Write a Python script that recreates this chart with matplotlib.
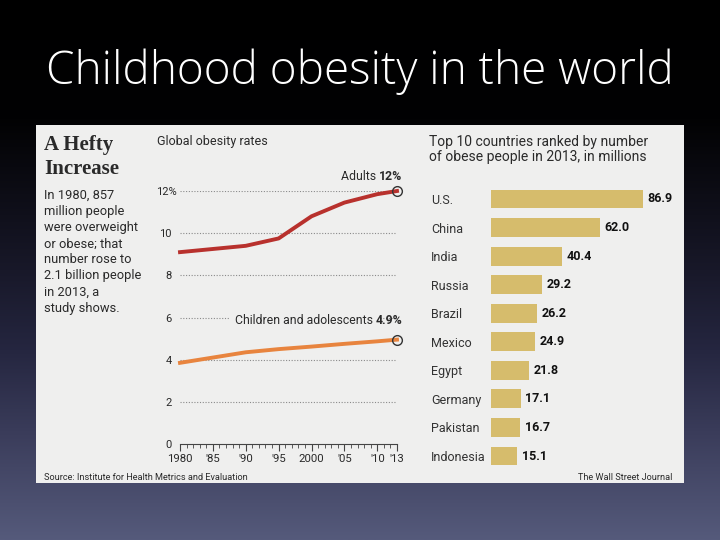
import numpy as np
import matplotlib.pyplot as plt
from matplotlib.colors import LinearSegmentedColormap
from matplotlib.transforms import ScaledTranslation

# Global obesity rates (%)
years = [1980, 1985, 1990, 1995, 2000, 2005, 2010, 2013]
adults = [9.1, 9.25, 9.4, 9.75, 10.8, 11.45, 11.85, 12.0]
children = [3.85, 4.1, 4.35, 4.5, 4.62, 4.75, 4.87, 4.95]

# Top 10 countries, obese people in 2013 (millions)
countries = ['U.S.', 'China', 'India', 'Russia', 'Brazil', 'Mexico', 'Egypt',
             'Germany', 'Pakistan', 'Indonesia']
millions = [86.9, 62.0, 40.4, 29.2, 26.2, 24.9, 21.8, 17.1, 16.7, 15.1]

x_ticks = [1980, 1985, 1990, 1995, 2000, 2005, 2010, 2013]
x_labels = ['1980', "'85", "'90", "'95", '2000', "'05", "'10", "'13"]
y_ticks = [0, 2, 4, 6, 8, 10, 12]
y_labels = ['0', '2', '4', '6', '8', '10', '12%']

SANS = 'Roboto'
INK = '#2a2a2a'
PANEL = '#efefee'
W, H = 720, 540


def px(x, y, w, h):
    """Pixel-Box (oben links) -> Figure-Koordinaten."""
    return [x / W, 1 - (y + h) / H, w / W, h / H]


fig = plt.figure(figsize=(7.2, 5.4), dpi=100)

# Hintergrund: Verlauf schwarz -> schiefergrau
bg = fig.add_axes([0, 0, 1, 1])
cmap = LinearSegmentedColormap.from_list('slate', [
    (0.0, '#000000'), (0.22, '#020203'), (0.5, '#181829'),
    (0.65, '#252640'), (0.8, '#3a3c5a'), (1.0, '#555a7b')])
bg.imshow(np.linspace(0, 1, 256).reshape(-1, 1), aspect='auto', cmap=cmap,
          extent=[0, 1, 0, 1], origin='upper')
bg.axis('off')

fig.text(0.5, 1 - 72 / H, 'Childhood obesity in the world', ha='center', va='center',
         color='white', fontsize=33, family='Open Sans', weight='light')

# Grafik-Panel
panel = fig.add_axes(px(36, 125, 648, 358))
panel.set_facecolor(PANEL)
panel.set_xticks([])
panel.set_yticks([])
for s in panel.spines.values():
    s.set_visible(False)

fig.text(44 / W, 1 - 174 / H, 'A Hefty\nIncrease', ha='left', va='baseline',
         family='Liberation Serif', weight='bold', fontsize=15, color=INK, linespacing=1.25)
fig.text(44 / W, 1 - 189 / H,
         'In 1980, 857\nmillion people\nwere overweight\nor obese; that\nnumber rose to\n'
         '2.1 billion people\nin 2013, a\nstudy shows.',
         ha='left', va='top', family=SANS, fontsize=9.3, color=INK, linespacing=1.31)
fig.text(157 / W, 1 - 142 / H, 'Global obesity rates', ha='left', va='center',
         family=SANS, fontsize=9, color=INK)
fig.text(429 / W, 1 - 135 / H, 'Top 10 countries ranked by number\nof obese people in 2013, in millions',
         ha='left', va='top', family=SANS, fontsize=10, color=INK, linespacing=1.1)
fig.text(44 / W, 1 - 478 / H, 'Source: Institute for Health Metrics and Evaluation',
         ha='left', va='center', family=SANS, fontsize=6.6, color=INK)
fig.text(672 / W, 1 - 478 / H, 'The Wall Street Journal',
         ha='right', va='center', family=SANS, fontsize=6.6, color=INK)

# Linienchart
ax = fig.add_axes(px(180, 191, 217, 253))
ax.set_facecolor('none')
ax.set_xlim(1980, 2013)
ax.set_ylim(0, 12)
for v in y_ticks[1:]:
    ax.axhline(v, color='#8a8a8a', lw=0.8, ls=(0, (1, 1.5)), zorder=1)
ax.plot(years, adults, color='#b8312d', lw=2.8, clip_on=False, zorder=3)
ax.plot(years, children, color='#e8843e', lw=2.8, clip_on=False, zorder=3)
ax.plot(years[-1], adults[-1], 'o', mfc='none', mec='#333333', ms=7, mew=1, clip_on=False, zorder=4)
ax.plot(years[-1], children[-1], 'o', mfc='none', mec='#333333', ms=7, mew=1, clip_on=False, zorder=4)

t1 = ax.text(2013.8, 12.7, '12%', ha='right', va='center', weight='bold',
             family=SANS, fontsize=8.8, color=INK)
ax.annotate('Adults ', xy=(0, 0), xycoords=t1, ha='right', va='bottom',
            family=SANS, fontsize=8.8, color=INK)
t2 = ax.text(2013.8, 5.88, '4.9%', ha='right', va='center', weight='bold',
             family=SANS, fontsize=8.8, color=INK, zorder=6)
ax.annotate('Children and adolescents ', xy=(0, 0), xycoords=t2, ha='right', va='bottom',
            family=SANS, fontsize=8.8, color=INK, zorder=5,
            bbox=dict(boxstyle='square,pad=0.35', fc=PANEL, ec='none'))

for side in ['top', 'right', 'left']:
    ax.spines[side].set_visible(False)
ax.spines['bottom'].set_color('#444444')
ax.spines['bottom'].set_linewidth(0.8)
ax.set_xticks(x_ticks, x_labels)
ax.set_xticks(range(1980, 2014), minor=True)
ax.tick_params(axis='x', which='major', length=5, width=0.8, color='#444444', pad=2,
               labelsize=8.2, labelcolor=INK)
ax.tick_params(axis='x', which='minor', length=3, width=0.6, color='#444444')
ax.set_yticks(y_ticks, y_labels)
ax.tick_params(axis='y', length=0, pad=6, labelsize=8, labelcolor=INK)
for lab in ax.get_xticklabels() + ax.get_yticklabels():
    lab.set_family(SANS)
# "%" ragt wie im Original über die Zahlenkante hinaus
top_lab = ax.get_yticklabels()[-1]
top_lab.set_transform(top_lab.get_transform() + ScaledTranslation(5 / 100, 0, fig.dpi_scale_trans))

# Balkenchart
bx = fig.add_axes(px(491, 184.7, 189, 285.6))
bx.set_facecolor('none')
bx.set_xlim(0, 108)
bx.set_ylim(9.5, -0.5)
rows = np.arange(len(countries))
bx.barh(rows, millions, height=0.66, color='#d6bc6c')
for i, v in zip(rows, millions):
    bx.text(v + 2.6, i, f'{v:.1f}', ha='left', va='center', weight='bold',
            family=SANS, fontsize=9, color='#111111')
bx.set_yticks(rows, countries)
bx.set_xticks([])
bx.tick_params(axis='y', length=0, pad=43, labelsize=9, labelcolor='#333333')
for lab in bx.get_yticklabels():
    lab.set_ha('left')
    lab.set_family(SANS)
for s in bx.spines.values():
    s.set_visible(False)

fig.savefig('out.png', dpi=100)
